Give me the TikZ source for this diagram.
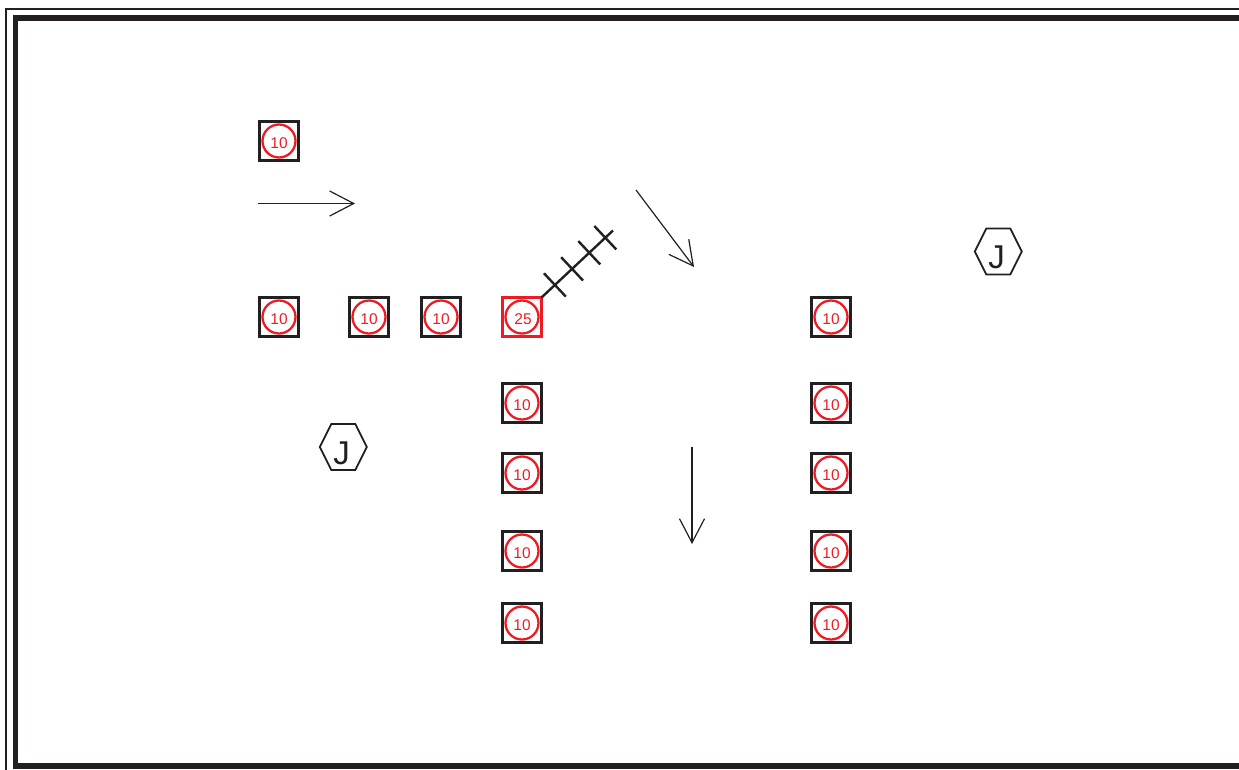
\documentclass[tikz,border=0pt]{standalone}
\usepackage{fontspec}
\setmainfont{Liberation Sans}
\usetikzlibrary{arrows.meta,decorations.markings}
\definecolor{ink}{HTML}{231F20}
\definecolor{mark}{HTML}{ED1C24}
\tikzset{
boxk/.style={draw=ink,line width=3pt,minimum size=38.6pt,inner sep=0pt,outer sep=0pt},
boxr/.style={boxk,draw=mark},
ring/.style={draw=mark,circle,line width=2.3pt,minimum size=33pt,inner sep=0pt},
num/.style={text=mark,inner sep=0pt,font=\fontsize{15.5}{15.5}\selectfont},
hexa/.style={minimum width=47pt,minimum height=46pt,inner sep=0pt},
hexline/.style={draw=ink,line width=1.8pt},
jay/.style={text=ink,inner sep=0pt,font=\fontsize{33}{33}\selectfont},
flow/.style={draw=ink,line width=1.2pt,-{Straight Barb[length=24pt,width=25pt,line width=1.2pt]}},
tick/.style={draw=ink,line width=2.4pt},
hatch/.style={draw=ink,line width=2.4pt,postaction=decorate,decoration={markings,mark=at position .19 with {\draw[tick](0,-16)--(0,16);},mark=at position .43 with {\draw[tick](0,-16)--(0,16);},mark=at position .67 with {\draw[tick](0,-16)--(0,16);},mark=at position .894 with {\draw[tick](0,-16)--(0,16);}}}
}
\begin{document}
\begin{tikzpicture}[x=1pt,y=-1pt]
\clip(0,0)rectangle(1239,769);
\draw[ink,line width=1.3pt](1300,9)--(6,9)--(6,800);
\draw[ink,line width=5.8pt](1300,18)--(15.5,18)--(15.5,766)--(1300,766);
\foreach \name/\x/\y in {a/279/141,b/279/317,c/369/317,d/441/317,e/522/403,f/522/473,g/522/551,h/522/623,i/831/317,j/831/403,k/831/473,l/831/551,m/831/623}{
\node[boxk](box\name)at(\x,\y){};\node[ring](ring\name)at(\x,\y){};\node[num](num\name)at(\x,\y+2.5){10};}
\node[boxr](boxn)at(522,317){};\node[ring](ringn)at(522,317){};\node[num](numn)at(523,319.5){25};
\foreach \name/\x/\y in {l/343.5/447,r/998.5/251.5}{
\node[hexa](hex\name)at(\x,\y){};\node[jay](jay\name)at(\x-2,\y+6){J};
\draw[hexline](hex\name.west)--++(11.5,-23)--++(24,0)--++(11.5,23)--++(-11.5,23)--++(-24,0)--cycle;}
\coordinate(ta)at(258,203.5);\coordinate(tb)at(355,203.5);\coordinate(ua)at(636,190);\coordinate(ub)at(694,267);\coordinate(va)at(692,447);\coordinate(vb)at(692,544);\coordinate(wb)at(613,230.5);
\draw[flow](ta)--(tb);\draw[flow](ua)--(ub);\draw[flow](va)--(vb);
\draw[hatch](boxn.north east)--(wb);
\end{tikzpicture}
\end{document}
